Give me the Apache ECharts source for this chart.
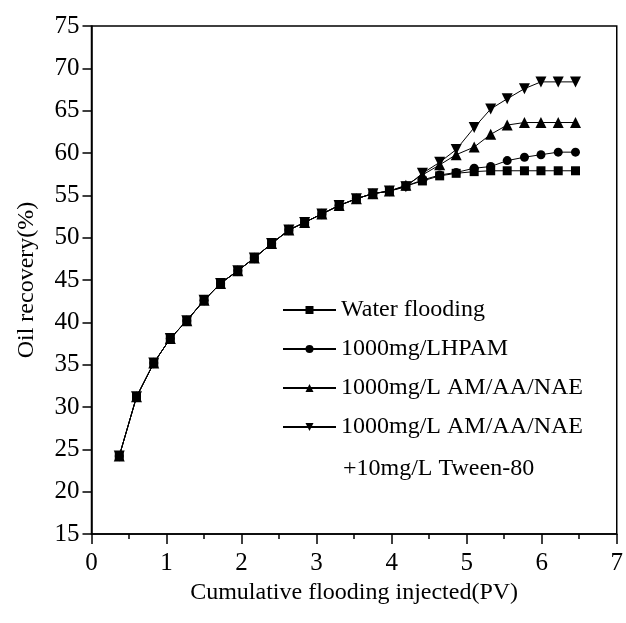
<!DOCTYPE html>
<html>
<head>
<meta charset="utf-8">
<script src="https://cdn.jsdelivr.net/npm/echarts@6/dist/echarts.min.js"></script>
<style>
  html, body { margin: 0; padding: 0; background: #fff; }
  #chart { width: 626px; height: 623px; }
</style>
</head>
<body>
<div id="chart"></div>
<script>
// injected pore volumes (PV)
const pv = [0.37, 0.60, 0.83, 1.05, 1.27, 1.50, 1.72, 1.95, 2.17, 2.40,
  2.63, 2.84, 3.07, 3.30, 3.53, 3.75, 3.97, 4.19, 4.41, 4.64,
  4.86, 5.10, 5.32, 5.54, 5.77, 5.99, 6.22, 6.45];

const waterFlooding = [24.2, 31.2, 35.2, 38.1, 40.2, 42.6, 44.6, 46.1, 47.6, 49.3,
  50.9, 51.8, 52.8, 53.8, 54.6, 55.2, 55.5, 56.1, 56.7, 57.3,
  57.6, 57.8, 57.9, 57.9, 57.9, 57.9, 57.9, 57.9];

const lhpam = [24.2, 31.2, 35.2, 38.1, 40.2, 42.6, 44.6, 46.1, 47.6, 49.3,
  50.9, 51.8, 52.8, 53.8, 54.6, 55.2, 55.5, 56.1, 56.8, 57.4,
  57.7, 58.2, 58.4, 59.1, 59.5, 59.8, 60.1, 60.1];

const amAaNae = [24.2, 31.2, 35.2, 38.1, 40.2, 42.6, 44.6, 46.1, 47.6, 49.3,
  50.9, 51.8, 52.8, 53.8, 54.6, 55.2, 55.5, 56.2, 57.4, 58.6,
  59.8, 60.7, 62.2, 63.3, 63.6, 63.6, 63.6, 63.6];

const amAaNaeTween = [24.2, 31.2, 35.2, 38.1, 40.2, 42.6, 44.6, 46.1, 47.6, 49.3,
  50.9, 51.8, 52.8, 53.8, 54.6, 55.2, 55.5, 56.0, 57.6, 58.9,
  60.4, 63.0, 65.2, 66.4, 67.6, 68.4, 68.4, 68.4];

const seriesNames = ['Water flooding', '1000mg/LHPAM', '1000mg/L AM/AA/NAE',
  '1000mg/L AM/AA/NAE\n+10mg/L Tween-80'];
const xTitle = 'Cumulative flooding injected(PV)';
const yTitle = 'Oil recovery(%)';

const font = "'Liberation Serif', 'Times New Roman', serif";

function pairs(ys) {
  return pv.map((x, i) => [x, ys[i]]);
}

function line(name, ys, symbol, size) {
  return {
    name: name,
    type: 'line',
    data: pairs(ys),
    symbol: symbol,
    symbolSize: size,
    showSymbol: true,
    lineStyle: { color: '#000', width: 1 },
    itemStyle: { color: '#000' },
    animation: false
  };
}

const chart = echarts.init(document.getElementById('chart'));
chart.setOption({
  backgroundColor: '#fff',
  textStyle: { fontFamily: font },
  grid: {
    left: 91.5, right: 7, top: 26, bottom: 89,
    show: true, borderColor: '#000', borderWidth: 1.5
  },
  legend: {
    orient: 'vertical',
    left: 282, top: 298,
    padding: 0,
    itemWidth: 53, itemHeight: 10,
    itemGap: 15,
    textStyle: { fontFamily: font, fontSize: 24, lineHeight: 24, color: '#000' },
    formatter: name => name.split('\n')[0],
    data: seriesNames
  },
  graphic: [{
    type: 'text',
    left: 343, top: 457,
    style: { text: seriesNames[3].split('\n')[1], font: '24px ' + font, fill: '#000' }
  }],
  xAxis: {
    type: 'value',
    min: 0, max: 7, interval: 1,
    name: xTitle,
    nameLocation: 'middle',
    nameGap: 42,
    nameTextStyle: { fontFamily: font, fontSize: 24, color: '#000' },
    axisLine: { lineStyle: { color: '#000', width: 1.5 } },
    axisTick: { inside: false, length: 10, lineStyle: { color: '#000', width: 1.5 } },
    minorTick: { show: true, splitNumber: 2, length: 5, lineStyle: { color: '#000', width: 1.5 } },
    axisLabel: { margin: 17, fontFamily: font, fontSize: 25, color: '#000' },
    splitLine: { show: false }
  },
  yAxis: {
    type: 'value',
    min: 15, max: 75, interval: 5,
    name: yTitle,
    nameLocation: 'middle',
    nameGap: 53,
    nameRotate: 90,
    nameTextStyle: { fontFamily: font, fontSize: 24, color: '#000' },
    axisLine: { show: true, lineStyle: { color: '#000', width: 1.5 } },
    axisTick: { show: true, inside: false, length: 9, lineStyle: { color: '#000', width: 1.5 } },
    axisLabel: { margin: 12, fontFamily: font, fontSize: 25, color: '#000' },
    splitLine: { show: false }
  },
  series: [
    line(seriesNames[0], waterFlooding, 'rect', 9),
    line(seriesNames[1], lhpam, 'circle', 9),
    line(seriesNames[2], amAaNae, 'triangle', 11),
    line(seriesNames[3], amAaNaeTween, 'path://M0,0 L10,0 L5,10 Z', 11)
  ]
});
</script>
</body>
</html>
